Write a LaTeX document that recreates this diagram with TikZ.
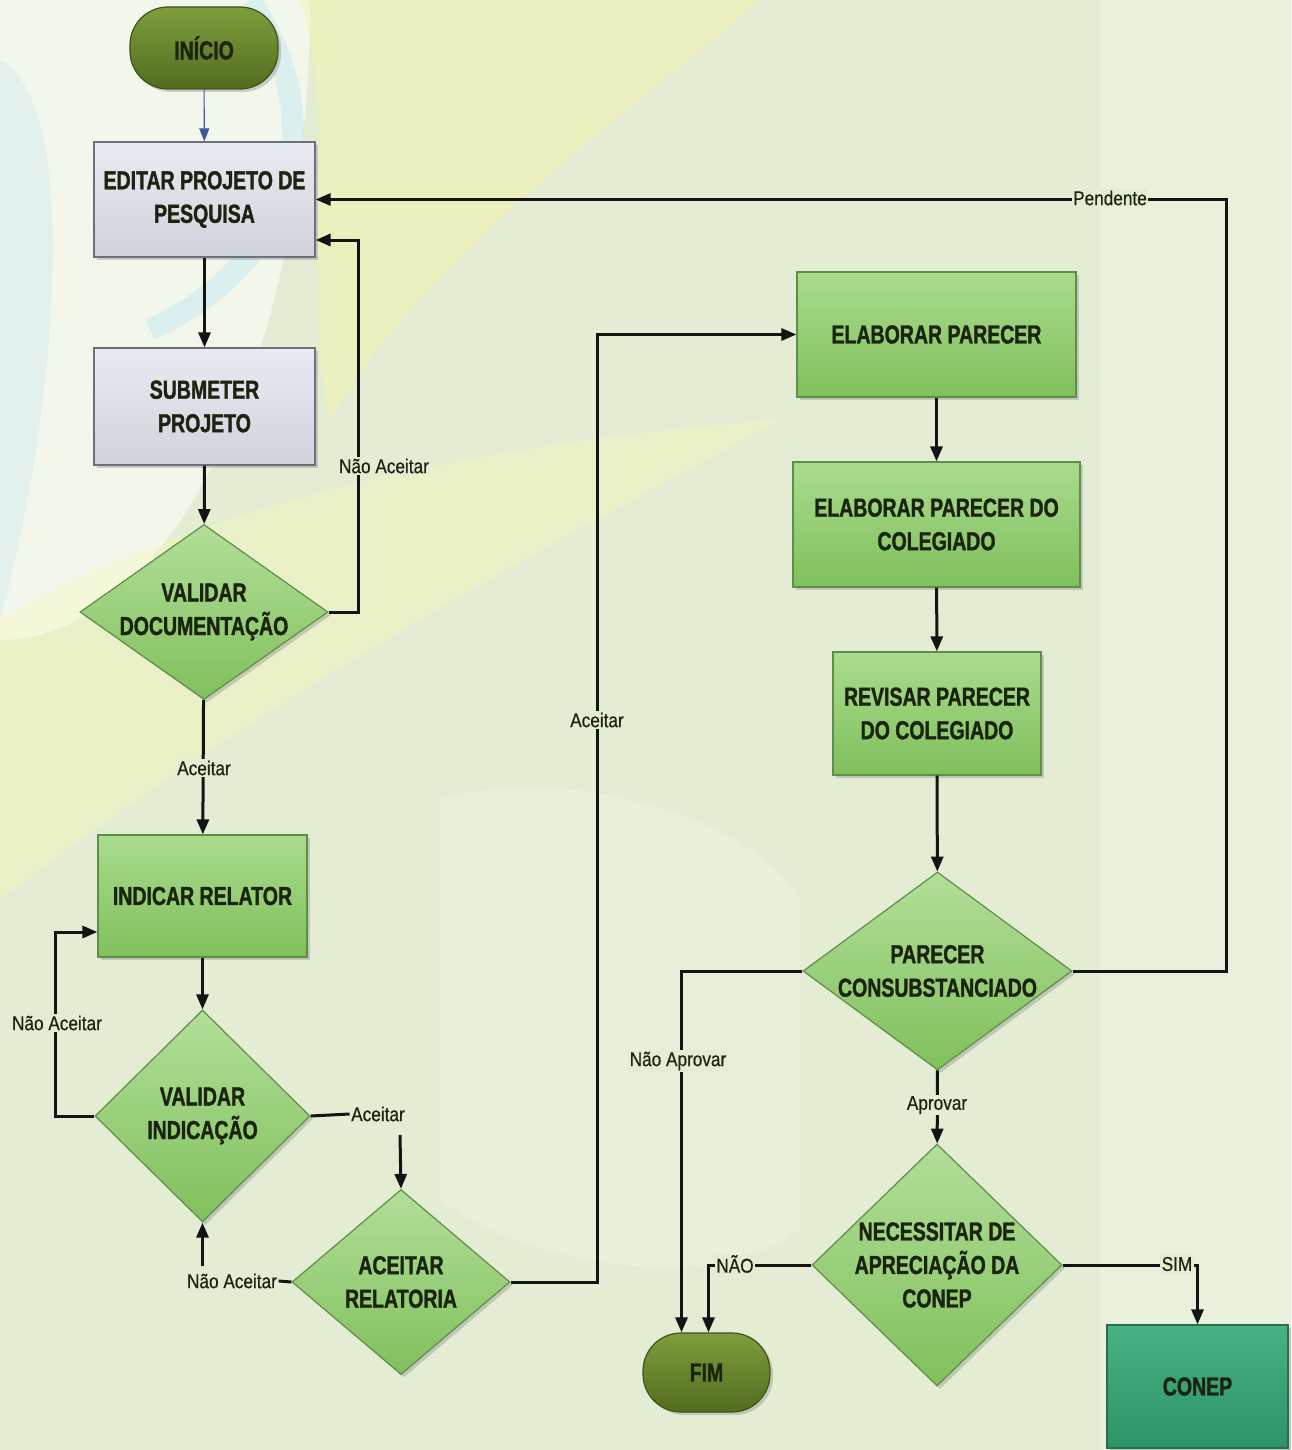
\documentclass[tikz,border=0pt]{standalone}
\usepackage{fontspec}
\newfontfamily\boxfont[FakeStretch=0.75,FakeBold=1.3]{Liberation Sans Bold}
\newfontfamily\labfont[FakeStretch=0.86,FakeBold=0.5]{Liberation Sans}
\usetikzlibrary{shapes.geometric,arrows.meta,shadows,calc}
\definecolor{bg}{HTML}{E4EDD4}
\definecolor{gtop}{HTML}{AADB8D}
\definecolor{gbot}{HTML}{80C05C}
\definecolor{gborder}{HTML}{5E8F48}
\definecolor{otop}{HTML}{7E9E3C}
\definecolor{obot}{HTML}{526C20}
\definecolor{oborder}{HTML}{3F5318}
\definecolor{grtop}{HTML}{EAEAF2}
\definecolor{grbot}{HTML}{D2D2DC}
\definecolor{grborder}{HTML}{6E6E7E}
\definecolor{ttop}{HTML}{48B282}
\definecolor{tbot}{HTML}{2C9366}
\definecolor{tborder}{HTML}{2A6E50}
\definecolor{txt}{HTML}{1A2410}
\definecolor{blu}{HTML}{3B5B9A}
\tikzset{
  shad/.style={drop shadow={opacity=0.35,shadow xshift=3pt,shadow yshift=-3pt}},
  boxtext/.style={font=\boxfont\fontsize{26}{33.5}\selectfont, text=txt, align=center},
  procbox/.style={rectangle, draw=gborder, line width=1.2pt, top color=gtop, bottom color=gbot, inner sep=0pt, shad, boxtext},
  graybox/.style={rectangle, draw=grborder, line width=1.2pt, top color=grtop, bottom color=grbot, inner sep=0pt, shad, boxtext},
  tealbox/.style={rectangle, draw=tborder, line width=1.2pt, top color=ttop, bottom color=tbot, inner sep=0pt, shad, boxtext},
  pill/.style={rectangle, rounded corners=38pt, draw=oborder, line width=1.2pt, top color=otop, bottom color=obot, inner sep=0pt, shad, boxtext},
  dec/.style={diamond, draw=gborder, line width=1.2pt, top color=gtop!90!white, bottom color=gbot, inner sep=0pt, shad},
  dectext/.style={boxtext},
  lab/.style={font=\labfont\fontsize{20}{23}\selectfont, text=txt, fill=bg, inner sep=1.5pt},
  conn/.style={draw=black!92, line width=3pt, -{Triangle[length=15pt,width=12pt]}},
  plain/.style={draw=black!92, line width=3pt},
}
\begin{document}
\begin{tikzpicture}[x=1pt,y=-1pt]
% ---------- background ----------
\fill[bg] (0,0) rectangle (1291,1450);
\useasboundingbox (0,0) rectangle (1291,1450);
\fill[white,opacity=0.55] (0,0) ellipse [x radius=310, y radius=640];
\fill[cyan!30,opacity=0.25] (0,60) .. controls (80,100) and (60,400) .. (0,620) -- cycle;
\draw[cyan!35,line width=22pt,opacity=0.3] (250,0) .. controls (330,120) and (300,260) .. (150,330);
\fill[yellow!45,opacity=0.3] (300,0) -- (760,0) .. controls (620,120) and (420,260) .. (330,420) .. controls (300,300) and (340,120) .. cycle;
\fill[yellow!35,opacity=0.25] (0,620) .. controls (200,500) and (500,440) .. (780,420) .. controls (520,560) and (260,700) .. (0,900) -- cycle;
\fill[white,opacity=0.18] (440,800) .. controls (560,760) and (760,820) .. (800,900) -- (800,1230) .. controls (700,1300) and (520,1260) .. (440,1200) -- cycle;
\fill[white,opacity=0.2] (1291,0) rectangle (1100,1450);

% ---------- nodes ----------
\node[pill, minimum width=148pt, minimum height=82pt] (ini) at (204,48) {INÍCIO};
\node[graybox, minimum width=221pt, minimum height=115pt] (edit) at (204.5,199.5) {EDITAR PROJETO DE\\PESQUISA};
\node[graybox, minimum width=221pt, minimum height=117pt] (sub) at (204.5,406.5) {SUBMETER\\PROJETO};
\node[dec, minimum width=248pt, minimum height=175pt] (vd) at (204,612) {};
\node[dectext] (vdt) at (vd) {VALIDAR\\DOCUMENTAÇÃO};
\node[procbox, minimum width=209pt, minimum height=122pt] (ind) at (202.5,896) {INDICAR RELATOR};
\node[dec, minimum width=215pt, minimum height=212pt] (vi) at (202.5,1116) {};
\node[dectext] (vit) at (vi) {VALIDAR\\INDICAÇÃO};
\node[dec, minimum width=218pt, minimum height=185pt] (ar) at (401,1282) {};
\node[dectext] (art) at (ar) {ACEITAR\\RELATORIA};
\node[procbox, minimum width=279pt, minimum height=125pt] (ep) at (936.5,334.5) {ELABORAR PARECER};
\node[procbox, minimum width=287pt, minimum height=125pt] (epc) at (936.5,524.5) {ELABORAR PARECER DO\\COLEGIADO};
\node[procbox, minimum width=208pt, minimum height=123pt] (rpc) at (937,713.5) {REVISAR PARECER\\DO COLEGIADO};
\node[dec, minimum width=269pt, minimum height=198pt] (pc) at (937.5,971) {};
\node[dectext] (pct) at (pc) {PARECER\\CONSUBSTANCIADO};
\node[dec, minimum width=250pt, minimum height=242pt] (nec) at (937,1265) {};
\node[dectext] (nect) at (nec) {NECESSITAR DE\\APRECIAÇÃO DA\\CONEP};
\node[pill, minimum width=127pt, minimum height=79pt] (fim) at (706.5,1372.5) {FIM};
\node[tealbox, minimum width=181pt, minimum height=123pt] (conep) at (1197.5,1386.5) {CONEP};

% ---------- helper coordinates ----------
\coordinate (rx) at (358,0);
\coordinate (lx) at (55,0);
\coordinate (ax) at (597,0);
\coordinate (px) at (1226,0);
\coordinate (c1) at (400,1135);
\coordinate (c2) at (202.5,1266);

% ---------- connectors ----------
\draw[draw=blu, line width=1.1pt, -{Triangle[length=13pt,width=10pt]}] (ini) -- (edit);
\draw[conn] (edit) -- (sub);
\draw[conn] (sub) -- (vd);
\draw[conn] (vd.east) -- (vd.east -| rx) |- ($(edit.east)+(0,40.5)$);
\node[lab] (l1) at (384,466) {Não Aceitar};
\draw[conn] (vd) -- (ind);
\node[lab] (l2) at (204,768) {Aceitar};
\draw[conn] (ind) -- (vi);
\draw[conn] (vi.west) -- (vi.west -| lx) |- ($(ind.west)+(0,36)$);
\node[lab] (l3) at (57,1023) {Não Aceitar};
\node[lab, fill=none] (l4) at (378,1114) {Aceitar};
\draw[plain] (vi.east) -- (l4.west);
\draw[conn] (c1) -- (ar.north);
\node[lab, fill=none] (l5) at (232,1281) {Não Aceitar};
\draw[plain] (ar.west) -- (l5.east);
\draw[conn] (c2) -- (vi.south);
\draw[conn] (ar.east) -- (ar.east -| ax) |- (ep.west);
\node[lab] (l6) at (597,720) {Aceitar};
\draw[conn] (ep) -- (epc);
\draw[conn] (epc) -- (rpc);
\draw[conn] (rpc) -- (pc);
\draw[conn] (pc.east) -- (pc.east -| px) |- (edit.east);
\node[lab] (l7) at (1110,198) {Pendente};
\draw[conn] (pc.west) -| ($(fim.north)+(-25,0)$);
\node[lab] (l8) at (678,1061) {Não Aprovar};
\draw[conn] (pc) -- (nec);
\node[lab] (l9) at (937,1105) {Aprovar};
\draw[conn] (nec.west) -| ($(fim.north)+(2,0)$);
\node[lab] (l10) at (735,1264) {NÃO};
\draw[conn] (nec.east) -| (conep.north);
\node[lab] (l11) at (1177,1264) {SIM};
\end{tikzpicture}
\end{document}
